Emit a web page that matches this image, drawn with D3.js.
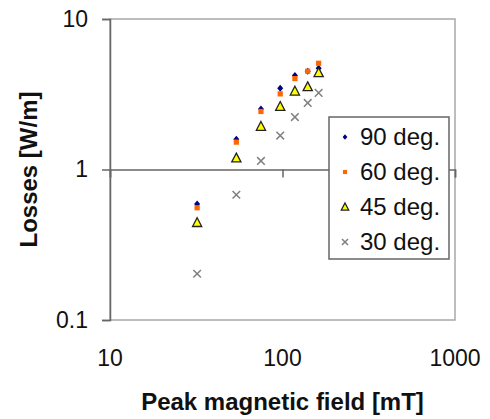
<!DOCTYPE html>
<html>
<head>
<meta charset="utf-8">
<script src="https://cdn.jsdelivr.net/npm/d3@7"></script>
<style>
  body { margin: 0; background: #fff; }
  text { font-family: "Liberation Sans", Arial, sans-serif; }
</style>
</head>
<body>
<div id="chart"></div>
<script>
// peak magnetic field [mT]
const fields = [32, 54, 75, 97, 118, 140, 162];
// losses [W/m] per angle
const loss90 = [0.59, 1.59, 2.52, 3.47, 4.21, 4.5, 4.71];
const loss60 = [0.557, 1.52, 2.43, 3.18, 4.02, 4.5, 5.08];
const loss45 = [0.443, 1.19, 1.93, 2.62, 3.31, 3.54, 4.39];
const loss30 = [0.203, 0.68, 1.14, 1.68, 2.23, 2.77, 3.23];
const seriesNames = ["90 deg.", "60 deg.", "45 deg.", "30 deg."];
const xTicks = [10, 100, 1000];
const yTicks = [0.1, 1, 10];

let width = 490, height = 419;
let margin = { top: 19, right: 35, bottom: 99, left: 110 };

const svg = d3.select("#chart").append("svg")
    .attr("width", width)
    .attr("height", height);

const x = d3.scaleLog().domain([10, 1000]).range([margin.left, width - margin.right]);
const y = d3.scaleLog().domain([0.1, 10]).range([height - margin.bottom, margin.top]);

// frame
svg.append("rect")
    .attr("x", x(10)).attr("y", y(10))
    .attr("width", x(1000) - x(10)).attr("height", y(0.1) - y(10))
    .attr("fill", "none").attr("stroke", "#a8a8a8").attr("stroke-width", 1.5);

// x axis crossing at 1, labels at the bottom
const xAxis = svg.append("g")
    .attr("transform", `translate(0,${y(1)})`)
    .call(d3.axisBottom(x).tickValues(xTicks).tickSize(8).tickFormat(""));
xAxis.select(".domain").attr("stroke", "#666").attr("stroke-width", 1.5);
xAxis.selectAll(".tick line").attr("stroke", "#666").attr("stroke-width", 1.5);

svg.selectAll(".xlabel")
    .data(xTicks)
    .enter().append("text")
    .attr("x", d => x(d))
    .attr("y", 366)
    .attr("text-anchor", "middle")
    .style("font-size", "23px")
    .attr("fill", "#111")
    .text(d => d);

const yAxis = svg.append("g")
    .attr("transform", `translate(${margin.left},0)`)
    .call(d3.axisLeft(y).tickValues(yTicks).tickSize(8).tickPadding(14).tickFormat(d3.format("")));
yAxis.select(".domain").attr("stroke", "#666").attr("stroke-width", 1.5);
yAxis.selectAll(".tick line").attr("stroke", "#666").attr("stroke-width", 1.5);
yAxis.selectAll(".tick text")
    .style("font-size", "23px")
    .style("font-family", "'Liberation Sans', Arial, sans-serif")
    .attr("fill", "#111");

// axis titles
svg.append("text")
    .attr("x", x(100))
    .attr("y", 410)
    .attr("text-anchor", "middle")
    .style("font-size", "24px")
    .style("font-weight", "bold")
    .attr("fill", "#111")
    .text("Peak magnetic field [mT]");

svg.append("text")
    .attr("transform", `translate(28,${y(1)}) rotate(-90)`)
    .attr("text-anchor", "middle")
    .attr("dominant-baseline", "central")
    .style("font-size", "24px")
    .style("font-weight", "bold")
    .attr("fill", "#111")
    .text("Losses [W/m]");

// markers
function drawMarker(g, kind, s) {
    if (kind === 0) {
        g.append("path").attr("d", `M0,${-3.5*s}L${3*s},0L0,${3.5*s}L${-3*s},0Z`).attr("fill", "#000080");
    } else if (kind === 1) {
        g.append("rect").attr("x", -2.6*s).attr("y", -2.6*s).attr("width", 5.2*s).attr("height", 5.2*s).attr("fill", "#ff6600");
    } else if (kind === 2) {
        g.append("path").attr("d", `M0,${-5*s}L${4.6*s},${3.8*s}L${-4.6*s},${3.8*s}Z`)
            .attr("fill", "#ffff00").attr("stroke", "#222").attr("stroke-width", 1.3);
    } else {
        g.append("path").attr("d", `M${-3.8*s},${-3.8*s}L${3.8*s},${3.8*s}M${3.8*s},${-3.8*s}L${-3.8*s},${3.8*s}`)
            .attr("stroke", "#808080").attr("stroke-width", 1.5).attr("fill", "none");
    }
}

const allSeries = [loss90, loss60, loss45, loss30];
allSeries.forEach(function(vals, k) {
    svg.append("g").selectAll("g")
        .data(vals.map((v, i) => ({ x: fields[i], y: v })))
        .enter().append("g")
        .attr("transform", d => `translate(${x(d.x)},${y(d.y)})`)
        .each(function() { drawMarker(d3.select(this), k, 1); });
});

// legend
const legend = svg.append("g").attr("transform", "translate(329,117)");
legend.append("rect")
    .attr("width", 120).attr("height", 142)
    .attr("fill", "#fff").attr("stroke", "#666").attr("stroke-width", 1.5);

const item = legend.selectAll(".legend")
    .data(seriesNames)
    .enter().append("g")
    .attr("class", "legend")
    .attr("transform", (d, i) => `translate(0, ${20 + i * 35})`);

item.each(function(d, i) { drawMarker(d3.select(this).append("g").attr("transform", "translate(16,0)"), i, 0.8); });

item.append("text")
    .attr("x", 31)
    .attr("dy", ".35em")
    .style("font-size", "24px")
    .attr("fill", "#111")
    .text(d => d);
</script>
</body>
</html>
